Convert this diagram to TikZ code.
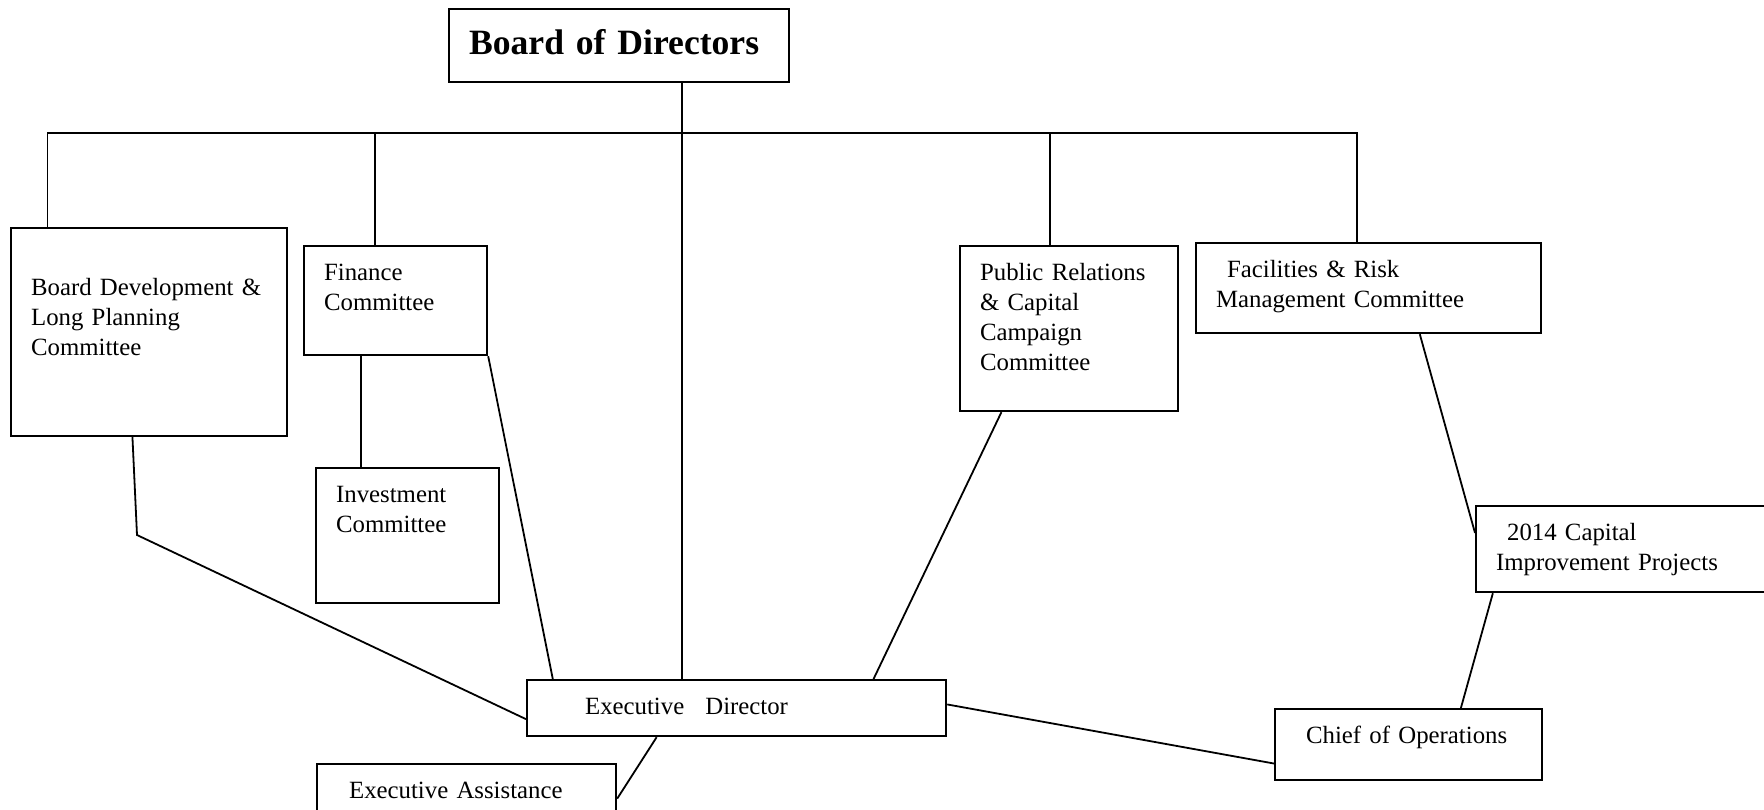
\documentclass[tikz,border=0pt]{standalone}
\usepackage{fontspec}
\setmainfont{Liberation Serif}

\begin{document}
\begin{tikzpicture}[x=0.5pt,y=-0.5pt,
  font=\fontsize{12.4}{15}\selectfont,
  box/.style={draw,line width=1.1pt,anchor=north west,align=left,
    inner xsep=10pt,inner ysep=8pt,text height=9pt},
  link/.style={line width=0.9pt}]

\useasboundingbox (0,0) rectangle (1764,809);

\node[box,text width=150pt,text height=14.5pt,text depth=6pt,
  font=\fontsize{17.8}{21}\selectfont\bfseries] (board) at (448,8) {Board of Directors};

% committees
\node[box,text width=118pt,text height=25.5pt,text depth=62.5pt] (bdev) at (10,227)
  {Board Development \&\\Long Planning\\Committee};
\node[box,text width=71.5pt,text depth=29.5pt] (fin) at (303,245) {Finance\\Committee};
\node[box,text width=71.5pt,text depth=42.5pt] (inv) at (315,467) {Investment\\Committee};
\node[box,text width=89pt,text depth=57.5pt] (pr) at (959,245)
  {Public Relations\\\& Capital\\Campaign\\Committee};
\node[box,text width=152.5pt,text depth=20pt] (fac) at (1195,242)
  {\hspace*{5.5pt}Facilities \& Risk\\Management Committee};
\node[box,text width=132.5pt,text depth=18pt] (cap) at (1475,505)
  {\hspace*{5.5pt}2014 Capital\\Improvement Projects};

% staff
\node[box,text width=189.5pt,text depth=3pt] (exec) at (526,679)
  {\hspace*{19pt}Executive\hspace{0.85em}Director};
\node[box,text width=113.5pt,text depth=10.5pt] (coo) at (1274,708)
  {\hspace*{5.5pt}Chief of Operations};
\node[box,text width=129.5pt,text height=10pt,text depth=-1pt,inner ysep=7pt] (asst) at (316,763)
  {\hspace*{6pt}Executive Assistance};

\coordinate (bus) at (0,133);
\coordinate (bend) at (137,535);

% bus under the board
\draw[link] (bdev.134) |- (fac.104 |- bus) -- (fac.104);
\draw[link] (fin.110) -- (fin.110 |- bus);
\draw[link] (pr.103) -- (pr.103 |- bus);
\draw[link] (board.329) -- (board.329 |- exec.north);

% reporting lines
\draw[link] (fin.238) -- (fin.238 |- inv.north);
\draw[link] (bdev.261) -- (bend) -- (exec.183);
\draw[link] (fin.south east) -- (exec.171);
\draw[link] (pr.231) -- (exec.12);
\draw[link] (fac.318) -- (cap.174);
\draw[link] (cap.198) -- (coo.35);
\draw[link] (exec.1) -- (coo.188);
\draw[link] (exec.200) -- (asst.356);

\end{tikzpicture}
\end{document}
